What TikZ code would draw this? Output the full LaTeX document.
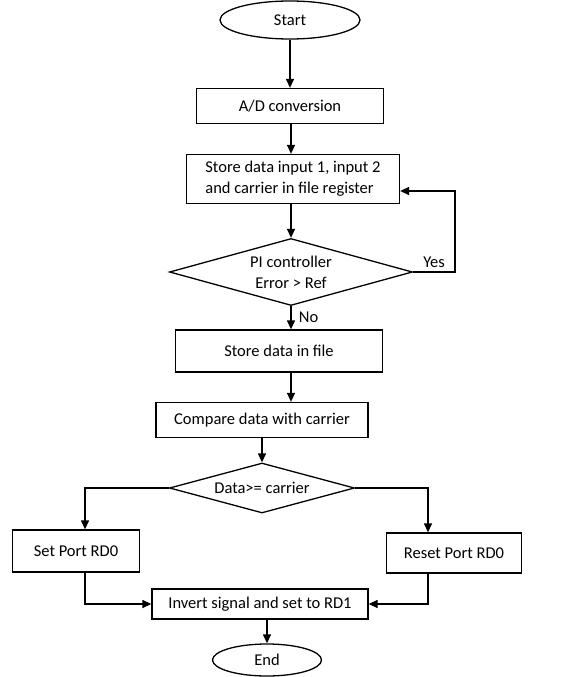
\documentclass[tikz,border=0pt]{standalone}
\usepackage{fontspec}
\setmainfont{Carlito}
\usepackage{tikz}
\usetikzlibrary{shapes.geometric}
\usetikzlibrary{positioning}
\usetikzlibrary{arrows.meta}

\begin{document}
\begin{tikzpicture}[x=1pt,y=-1pt,>={Triangle[length=9pt,width=8pt]},line width=1.3pt,
	every node/.style={font=\fontsize{16.5}{21}\selectfont},
	term/.style={ellipse,draw,inner sep=0pt},
	proc/.style={rectangle,draw,inner sep=0pt,minimum height=35pt},
	decision/.style={diamond,draw,inner sep=0pt}]
	
	\useasboundingbox (0,0) rectangle (580,677);
	
	\node[term,minimum width=140pt,minimum height=38pt] (start) at (290,20) {Start};
	\node[proc,minimum width=187pt] (ad) at (290,106) {A/D conversion};
	\node[proc,minimum width=213pt,minimum height=49pt,align=left] (store) at (293,179) {Store data input 1, input 2\\and carrier in file register};
	\node[decision,aspect=3.6,minimum width=243pt,minimum height=67pt,align=center] (pi) at (291,272) {PI controller\\Error > Ref};
	\node[proc,minimum width=207pt,minimum height=42pt] (file) at (279,351) {Store data in file};
	\node[proc,minimum width=212pt] (comp) at (262,420) {Compare data with carrier};
	\node[decision,aspect=3.7,minimum width=185pt,minimum height=50pt] (cmp) at (262,488) {Data>= carrier};
	\node[proc,minimum width=127pt,minimum height=42pt] (setp) at (76,551) {Set Port RD0};
	\node[proc,minimum width=135pt,minimum height=40pt] (reset) at (454,553) {Reset Port RD0};
	\node[proc,minimum width=216pt,minimum height=30pt] (inv) at (260,604) {Invert signal and set to RD1};
	\node[term,minimum width=109pt,minimum height=32pt] (end) at (267,660) {End};
	
	\coordinate (loop) at (455,191);
	
	\draw[->] (start) -- (ad);
	\draw[->] (ad.south -| pi) -- (store.north -| pi);
	\draw[->] (store.south -| pi) -- (pi);
	\draw[->] (pi.east) -- node[above] {Yes} (pi.east -| loop) -- (loop) -- (loop -| store.east);
	\draw[->] (pi.south) -- node[right=4pt] {No} (pi.south |- file.north);
	\draw[->] (file.south -| pi) -- (comp.north -| pi);
	\draw[->] (comp) -- (cmp);
	\draw[->] (cmp.west) -| ([xshift=9pt]setp.north);
	\draw[->] (cmp.east) -| ([xshift=-26pt]reset.north);
	\draw[->] ([xshift=9pt]setp.south) |- (inv.west);
	\draw[->] ([xshift=-26pt]reset.south) |- (inv.east);
	\draw[->] (inv.south -| end) -- (end);
\end{tikzpicture}
\end{document}
